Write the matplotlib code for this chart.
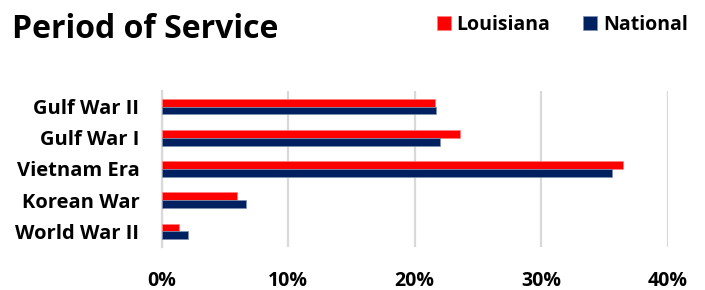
import matplotlib
matplotlib.use("Agg")
import matplotlib.pyplot as plt
from matplotlib.ticker import FuncFormatter
import numpy as np

categories = ["Gulf War II", "Gulf War I", "Vietnam Era", "Korean War", "World War II"]
louisiana = [21.6, 23.6, 36.5, 6.0, 1.4]
national = [21.7, 22.0, 35.6, 6.7, 2.1]
xticks = [0, 10, 20, 30, 40]

plt.rcParams['font.family'] = ['Open Sans', 'DejaVu Sans']
plt.rcParams['font.weight'] = 'bold'

RED = "#FF0000"
NAVY = "#002060"

fig = plt.figure(figsize=(7.05, 2.9), dpi=100)
ax = fig.add_axes([161.5/705, 43/290, 506.2/705, 156/290])

y = np.arange(len(categories))
h = 0.25
b1 = ax.barh(y - h/2, louisiana, height=h, color=RED, edgecolor="#ff8080", linewidth=0.5, label="Louisiana", zorder=3)
b2 = ax.barh(y + h/2, national, height=h, color=NAVY, edgecolor="#8090b0", linewidth=0.5, label="National", zorder=3)

ax.set_ylim(-0.5, len(categories) - 0.5)
ax.invert_yaxis()
ax.set_xlim(0, 40)
ax.set_xticks(xticks)
ax.xaxis.set_major_formatter(FuncFormatter(lambda v, p: f"{v:.0f}%"))
ax.set_yticks(y)
ax.set_yticklabels(categories)
ax.tick_params(axis='x', length=0, labelsize=14, pad=17)
ax.tick_params(axis='y', length=0, labelsize=14.5, pad=16)
for lab in ax.get_xticklabels() + ax.get_yticklabels():
    lab.set_fontweight('bold')

ax.grid(axis='x', color="#d9d9d9", linewidth=1.6, zorder=0)
ax.set_axisbelow(True)
for s in ["top", "right", "bottom"]:
    ax.spines[s].set_visible(False)
ax.spines["left"].set_color("#d9d9d9")
ax.spines["left"].set_linewidth(1.6)

fig.text(12/705, 1 - 30/290, "Period of Service", fontsize=23, fontweight='bold', va='center', ha='left')

leg = fig.legend(handles=[b1, b2], labels=["Louisiana", "National"], loc='center right',
                 bbox_to_anchor=(694/705, 1 - 24.5/290), ncol=2, frameon=False,
                 handlelength=0.72, handleheight=0.72, handletextpad=0.3, columnspacing=1.7,
                 borderaxespad=0, borderpad=0.3,
                 prop={'weight': 'bold', 'size': 14})

fig.savefig("out.png", dpi=100)
